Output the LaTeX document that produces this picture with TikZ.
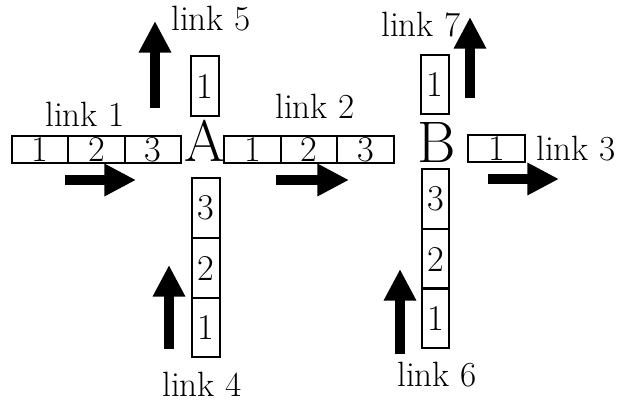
\documentclass[tikz,border=0pt]{standalone}
\usepackage{fontspec}
\usetikzlibrary{arrows.meta,positioning}

\tikzset{
 hcell/.style={draw,line width=1.8pt,inner sep=0pt,minimum width=1.69cm,minimum height=0.82cm,font=\fontsize{31}{32}\selectfont},
 vcell/.style={draw,line width=1.8pt,inner sep=0pt,minimum width=0.82cm,minimum height=1.78cm,font=\fontsize{31}{32}\selectfont},
 linklabel/.style={font=\fontsize{30}{32}\selectfont},
 switch/.style={font=\fontsize{50}{54}\selectfont},
 flow/.style={line width=8pt,-{Triangle[length=27pt,width=26pt]}}
}

\begin{document}
\begin{tikzpicture}[x=.03cm,y=-.03cm]
\useasboundingbox (0,0) rectangle (618,404);
% switches
\node[switch] (A) at (205,141) {A};
\node[switch] (B) at (437,142) {B};
% horizontal links
\foreach \x/\n in {40/1,96.5/2,153/3}
 \node[hcell] (one\n) at (\x,149.5) {\n};
\foreach \x/\n in {252.5/1,309/2,365.5/3}
 \node[hcell] (two\n) at (\x,149.5) {\n};
\node[hcell] (three1) at (496.5,148.5) {1};
% vertical links
\foreach \y/\n in {208/3,268/2,327.5/1}
 \node[vcell] (four\n) at (206,\y) {\n};
\foreach \y/\n in {199/3,259/2,318/1}
 \node[vcell] (six\n) at (435.5,\y) {\n};
\node[vcell] (five1) at (205,86) {1};
\node[vcell] (seven1) at (435,84.5) {1};
% labels
\node[linklabel] (lab1) at (85,114) {link 1};
\node[linklabel] (lab2) at (315,106) {link 2};
\node[linklabel] (lab3) at (576,149) {link 3};
\node[linklabel] (lab4) at (202,384) {link 4};
\node[linklabel] (lab5) at (211,19) {link 5};
\node[linklabel] (lab6) at (437,375) {link 6};
\node[linklabel] (lab7) at (421,25) {link 7};
% direction arrows
\coordinate (f1s) at (65,180);  \coordinate (f1e) at (136,180);
\coordinate (f2s) at (276,180); \coordinate (f2e) at (349,180);
\coordinate (f3s) at (488,179); \coordinate (f3e) at (559,179);
\coordinate (f4s) at (169,349); \coordinate (f4e) at (169,265);
\coordinate (f5s) at (155,108); \coordinate (f5e) at (155,21);
\coordinate (f6s) at (400,354); \coordinate (f6e) at (400,269);
\coordinate (f7s) at (470,98);  \coordinate (f7e) at (470,17);
\foreach \k in {1,...,7}
 \draw[flow] (f\k s) -- (f\k e);
\end{tikzpicture}
\end{document}
